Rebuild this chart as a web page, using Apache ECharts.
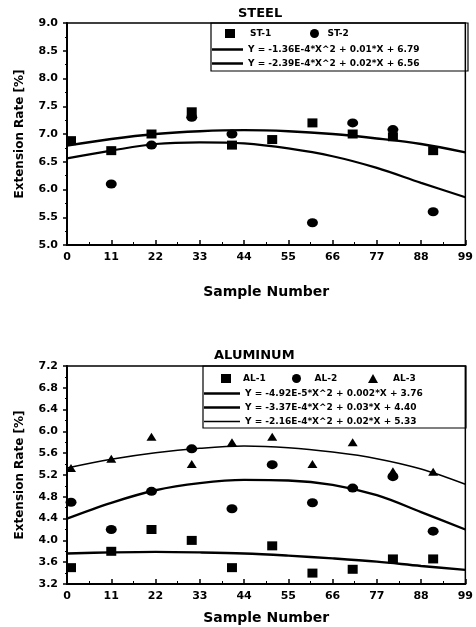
<!DOCTYPE html>
<html>
<head>
<meta charset="utf-8">
<title>Extension Rate - Steel / Aluminum</title>
<script src="https://cdn.jsdelivr.net/npm/echarts@6/dist/echarts.min.js"></script>
<style>
  html, body { margin: 0; padding: 0; background: #fff; }
  #chart { width: 476px; height: 627px; }
</style>
</head>
<body>
<div id="chart"></div>
<script>
// samples and fitted curves
var sampleX = [1, 11, 21, 31, 41, 51, 61, 71, 81, 91];
var fitX = [0, 11, 22, 33, 44, 55, 66, 77, 88, 99];

var st1 = [6.88, 6.7, 7.0, 7.4, 6.8, 6.9, 7.2, 7.0, 6.95, 6.7];
var st2 = [null, 6.1, 6.8, 7.3, 7.0, null, 5.4, 7.2, 7.08, 5.6];
var st1Fit = [6.79, 6.91, 7.0, 7.05, 7.07, 7.05, 7.0, 6.92, 6.82, 6.67];
var st2Fit = [6.56, 6.70, 6.82, 6.85, 6.83, 6.74, 6.60, 6.39, 6.12, 5.86];

var al1 = [3.5, 3.8, 4.2, 4.0, 3.5, 3.9, 3.4, 3.47, 3.66, 3.66];
var al2 = [4.7, 4.2, 4.9, 5.68, 4.58, 5.39, 4.69, 4.96, 5.17, 4.17];
var al3 = [5.33, 5.5, 5.9, 5.4, 5.8, 5.9, 5.4, 5.8, 5.27, 5.26];
var al1Fit = [3.76, 3.78, 3.79, 3.78, 3.76, 3.72, 3.67, 3.61, 3.53, 3.46];
var al2Fit = [4.40, 4.69, 4.92, 5.05, 5.11, 5.10, 5.02, 4.83, 4.52, 4.20];
var al3Fit = [5.33, 5.49, 5.61, 5.69, 5.73, 5.70, 5.62, 5.50, 5.31, 5.03];

var eqST1 = 'Y = -1.36E-4*X^2 + 0.01*X + 6.79';
var eqST2 = 'Y = -2.39E-4*X^2 + 0.02*X + 6.56';
var eqAL1 = 'Y = -4.92E-5*X^2 + 0.002*X + 3.76';
var eqAL2 = 'Y = -3.37E-4*X^2 + 0.03*X + 4.40';
var eqAL3 = 'Y = -2.16E-4*X^2 + 0.02*X + 5.33';

var FONT = 'DejaVu Sans';

function pairs(xs, ys) {
  return xs.map(function (x, i) { return [x, ys[i]]; })
           .filter(function (p) { return p[1] != null; });
}

function legendItem(name, left, top, w, h, icon, pad) {
  return {
    data: [icon ? { name: name, icon: icon } : name],
    left: left, top: top,
    itemWidth: w, itemHeight: h,
    padding: 0,
    selectedMode: false,
    textStyle: { fontFamily: FONT, fontWeight: 'bold', fontSize: 9, color: '#000',
                 padding: [0, 0, 0, pad || 0] }
  };
}

function xAxisFor(idx, gap) {
  return {
    type: 'value', gridIndex: idx, min: 0, max: 99, interval: 11,
    name: 'Sample Number', nameLocation: 'middle', nameGap: gap,
    nameTextStyle: { fontFamily: FONT, fontWeight: 'bold', fontSize: 14, color: '#000' },
    axisLine: { lineStyle: { color: '#000', width: 2 } },
    axisTick: { inside: true, length: 5, lineStyle: { color: '#000', width: 1.5 } },
    minorTick: { show: true, splitNumber: 2, length: 3, lineStyle: { color: '#000', width: 1 } },
    axisLabel: { margin: 7, fontFamily: FONT, fontWeight: 'bold', fontSize: 11, color: '#000' },
    splitLine: { show: false }
  };
}

function yAxisFor(idx, min, max, step) {
  return {
    type: 'value', gridIndex: idx, min: min, max: max, interval: step,
    name: 'Extension Rate [%]', nameLocation: 'middle', nameGap: 41, nameRotate: 90,
    nameTextStyle: { fontFamily: FONT, fontWeight: 'bold', fontSize: 12, color: '#000' },
    axisLine: { lineStyle: { color: '#000', width: 2 } },
    axisTick: { inside: false, length: 4, lineStyle: { color: '#000', width: 1.5 } },
    minorTick: { show: true, splitNumber: 2, length: 2, lineStyle: { color: '#000', width: 1 } },
    axisLabel: {
      margin: 9, fontFamily: FONT, fontWeight: 'bold', fontSize: 11, color: '#000',
      formatter: function (v) { return v.toFixed(1); }
    },
    splitLine: { show: false }
  };
}

function scatter(name, grid, xs, ys, symbol, size) {
  return {
    name: name, type: 'scatter', xAxisIndex: grid, yAxisIndex: grid,
    symbol: symbol, symbolSize: size,
    itemStyle: { color: '#000', opacity: 1 },
    data: pairs(xs, ys), z: 4
  };
}

function fitLine(name, grid, ys, width) {
  return {
    name: name, type: 'line', xAxisIndex: grid, yAxisIndex: grid,
    smooth: 0.35, symbol: 'none',
    itemStyle: { color: '#000' },
    lineStyle: { color: '#000', width: width },
    data: pairs(fitX, ys), z: 3
  };
}

var chart = echarts.init(document.getElementById('chart'), null, { renderer: 'canvas' });

var option = {
  animation: false,
  color: ['#000'],
  grid: [
    { left: 67, top: 23, width: 401, height: 222, show: true, borderColor: '#000', borderWidth: 1.5 },
    { left: 67, top: 366, width: 399, height: 218, show: true, borderColor: '#000', borderWidth: 1.5 }
  ],
  xAxis: [xAxisFor(0, 40), xAxisFor(1, 27)],
  yAxis: [yAxisFor(0, 5, 9, 0.5), yAxisFor(1, 3.2, 7.2, 0.4)],
  legend: [
    legendItem('ST-1', 225, 29, 10, 9, null, 10),
    legendItem('ST-2', 310, 29, 10, 9, null, 3),
    legendItem(eqST1, 212, 45, 31, 2.5, 'rect'),
    legendItem(eqST2, 212, 59, 31, 2.5, 'rect'),
    legendItem('AL-1', 221, 374, 10, 9, null, 7),
    legendItem('AL-2', 292, 374, 10, 9, null, 8),
    legendItem('AL-3', 368, 374, 10, 9, null, 10),
    legendItem(eqAL1, 204, 389, 36, 2.5, 'rect'),
    legendItem(eqAL2, 204, 403, 36, 2.5, 'rect'),
    legendItem(eqAL3, 204, 417, 36, 1.5, 'rect')
  ],
  graphic: [
    { type: 'text', left: 262 - 24, top: 7,
      style: { text: 'STEEL', font: 'bold 13px "DejaVu Sans"', fill: '#000' } },
    { type: 'text', left: 257 - 43, top: 349,
      style: { text: 'ALUMINUM', font: 'bold 13px "DejaVu Sans"', fill: '#000' } },
    { type: 'rect', shape: { x: 211, y: 23, width: 257, height: 48 },
      style: { fill: 'none', stroke: '#000', lineWidth: 1.2 }, z: 10 },
    { type: 'rect', shape: { x: 203, y: 366, width: 263, height: 62 },
      style: { fill: 'none', stroke: '#000', lineWidth: 1.2 }, z: 10 }
  ],
  series: [
    fitLine(eqST1, 0, st1Fit, 2.4),
    fitLine(eqST2, 0, st2Fit, 2.2),
    scatter('ST-1', 0, sampleX, st1, 'rect', [10, 9]),
    scatter('ST-2', 0, sampleX, st2, 'circle', [11, 9]),
    fitLine(eqAL1, 1, al1Fit, 2.4),
    fitLine(eqAL2, 1, al2Fit, 2.4),
    fitLine(eqAL3, 1, al3Fit, 1.5),
    scatter('AL-1', 1, sampleX, al1, 'rect', [10, 9]),
    scatter('AL-2', 1, sampleX, al2, 'circle', [11, 9]),
    scatter('AL-3', 1, sampleX, al3, 'triangle', [10, 8])
  ]
};

chart.setOption(option);
window.addEventListener('resize', chart.resize);
</script>
</body>
</html>
